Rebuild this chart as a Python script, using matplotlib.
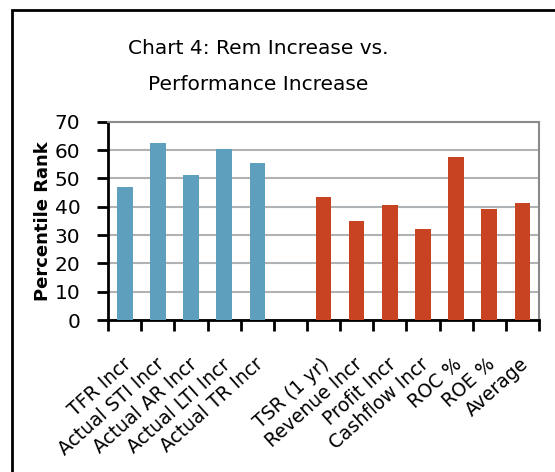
import numpy as np
import matplotlib
matplotlib.use("Agg")
import matplotlib.pyplot as plt
from matplotlib.patches import Rectangle
from matplotlib.transforms import ScaledTranslation

categories = ["TFR Incr", "Actual STI Incr", "Actual AR Incr", "Actual LTI Incr",
              "Actual TR Incr", "", "TSR (1 yr)", "Revenue Incr", "Profit Incr",
              "Cashflow Incr", "ROC %", "ROE %", "Average"]
rem_values = [47, 62.4, 51.1, 60.4, 55.5]
perf_values = [43.4, 35.0, 40.6, 32.2, 57.5, 39.2, 41.2]

blue = "#5d9fbd"
red = "#c84321"

fig = plt.figure(figsize=(5.55, 4.72), dpi=100)
ax = fig.add_axes([0.195, 0.322, 0.776, 0.42])

x = np.arange(len(categories))
ax.bar(x[:5], rem_values, width=0.47, color=blue, zorder=3)
ax.bar(x[6:], perf_values, width=0.47, color=red, zorder=3)

ax.set_xlim(-0.5, len(categories) - 0.5)
ax.set_ylim(0, 70)
ax.set_yticks(range(0, 71, 10))
ax.yaxis.grid(True, color="#b0b3b6", linewidth=1.5, zorder=0)

# ticks between categories on x
ax.set_xticks(np.arange(-0.5, len(categories), 1.0))
ax.set_xticklabels([])
ax.set_xticks(x, minor=True)
ax.set_xticklabels(categories, minor=True, rotation=42, ha="right",
                   rotation_mode="anchor", fontsize=13.5)
ax.tick_params(axis="x", which="minor", length=0, pad=25)
ax.tick_params(axis="x", which="major", length=8, width=2, direction="out")
ax.tick_params(axis="y", length=8, width=2, labelsize=14.5, pad=12)
for lab in ax.get_xticklabels(minor=True):
    lab.set_transform(lab.get_transform() + ScaledTranslation(-3 / 100, 0, fig.dpi_scale_trans))

for s in ["left", "bottom"]:
    ax.spines[s].set_linewidth(2)
    ax.spines[s].set_color("black")
for s in ["top", "right"]:
    ax.spines[s].set_linewidth(1.5)
    ax.spines[s].set_color("#8a8a8a")

ax.set_ylabel("Percentile Rank", fontsize=13, fontweight="bold", labelpad=2)

fig.text(0.465, 0.898, "Chart 4: Rem Increase vs.", ha="center", va="center", fontsize=14.5)
fig.text(0.465, 0.82, "Performance Increase", ha="center", va="center", fontsize=14.5)

fig.add_artist(Rectangle((12 / 555, -0.05), 1.2, 1.05 - 10 / 472, transform=fig.transFigure,
                         fill=False, edgecolor="black", linewidth=2))

fig.savefig("out.png", dpi=100)
